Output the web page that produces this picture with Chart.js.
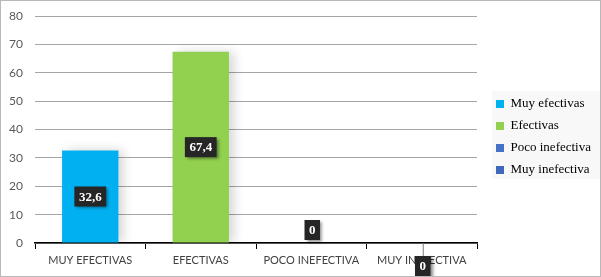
<!DOCTYPE html>
<html>
<head>
<meta charset="utf-8">
<script src="https://cdn.jsdelivr.net/npm/chart.js@4/dist/chart.umd.min.js"></script>
<style>
  html, body { margin: 0; padding: 0; background: #fff; }
  #wrap { width: 599px; height: 275px; border: 1px solid #b8b8b8; }
  canvas { display: block; }
</style>
</head>
<body>
<div id="wrap"><canvas id="effChart" width="599" height="275"></canvas></div>
<script>
const categories = ['MUY EFECTIVAS', 'EFECTIVAS', 'POCO INEFECTIVA', 'MUY INEFECTIVA'];
const legendNames = ['Muy efectivas', 'Efectivas', 'Poco inefectiva', 'Muy inefectiva'];
const percentages = [32.6, 67.4, 0, 0];
const barColors = ['#00b0f0', '#92d050', '#4472c4', '#3f68bd'];

// soft shadow behind the bars, like the office chart
const barShadow = {
  id: 'barShadow',
  beforeDatasetDraw(chart) {
    const ctx = chart.ctx;
    ctx.save();
    ctx.shadowColor = 'rgba(0,0,0,0.16)';
    ctx.shadowBlur = 10;
    ctx.shadowOffsetX = 5;
    ctx.shadowOffsetY = 0;
  },
  afterDatasetDraw(chart) {
    chart.ctx.restore();
  }
};

// nudge the legend where excel put it + faint panel behind it
const legendPanel = {
  id: 'legendPanel',
  afterLayout(chart) {
    const lg = chart.legend;
    if (!lg) return;
    lg.left += 10; lg.right += 10;
    lg.top -= 9; lg.bottom -= 9;
  },
  beforeDraw(chart) {
    const lg = chart.legend;
    if (!lg) return;
    const ctx = chart.ctx;
    const cy = (lg.top + lg.bottom) / 2;
    ctx.save();
    ctx.fillStyle = '#f8f8f8';
    ctx.fillRect(lg.left + 5, cy - 46, chart.width - lg.left - 5, 88);
    ctx.restore();
  }
};

// dark value boxes
const valueBoxes = {
  id: 'valueBoxes',
  afterDraw(chart) {
    const ctx = chart.ctx;
    const meta = chart.getDatasetMeta(0);
    let zeroCount = 0;
    ctx.save();
    ctx.font = 'bold 13px "Liberation Serif", "Times New Roman", serif';
    ctx.textAlign = 'center';
    ctx.textBaseline = 'middle';
    meta.data.forEach((bar, i) => {
      const v = percentages[i];
      const txt = v.toLocaleString('es-ES');
      const w = ctx.measureText(txt).width + 9;
      const h = 20;
      let cx = bar.x;
      let cy;
      if (v > 0) {
        cy = (bar.y + bar.base) / 2;
      } else {
        zeroCount++;
        if (zeroCount === 1) {
          cx = bar.x + 1;
          cy = bar.base - 13;
        } else {
          cx = bar.x + 1;
          cy = bar.base + 23;
          ctx.strokeStyle = '#7f7f7f';
          ctx.lineWidth = 1;
          ctx.beginPath();
          ctx.moveTo(cx + 0.5, bar.base);
          ctx.lineTo(cx + 0.5, cy - h / 2);
          ctx.stroke();
        }
      }
      ctx.save();
      ctx.shadowColor = 'rgba(0,0,0,0.45)';
      ctx.shadowBlur = 3;
      ctx.shadowOffsetX = 2;
      ctx.shadowOffsetY = 2;
      ctx.fillStyle = '#262626';
      ctx.fillRect(cx - w / 2, cy - h / 2, w, h);
      ctx.restore();
      ctx.fillStyle = '#ffffff';
      ctx.fillText(txt, cx, cy + 1);
    });
    ctx.restore();
  }
};

const ctx = document.getElementById('effChart');
new Chart(ctx, {
  type: 'bar',
  data: {
    labels: categories,
    datasets: [{
      data: percentages,
      backgroundColor: barColors,
      borderWidth: 0,
      barPercentage: 0.51,
      categoryPercentage: 1
    }]
  },
  options: {
    responsive: false,
    animation: false,
    layout: { padding: { top: 15, right: 9, left: 0, bottom: 0 } },
    scales: {
      x: {
        grid: {
          offset: true,
          drawOnChartArea: false,
          drawTicks: true,
          tickLength: 6,
          color: '#000'
        },
        border: { color: '#000', width: 1.5 },
        ticks: {
          color: '#404040',
          font: { family: 'Lato, "Open Sans", sans-serif', size: 11 },
          padding: 5,
          maxRotation: 0
        },
        afterFit(s) { s.height = 33; }
      },
      y: {
        min: 0,
        max: 80,
        ticks: {
          stepSize: 10,
          color: '#595959',
          font: { family: 'Lato, "Open Sans", sans-serif', size: 12 },
          padding: 12
        },
        grid: { color: '#a6a6a6', drawTicks: false, lineWidth: 1 },
        border: { display: false },
        afterFit(s) { s.width = 34; s.paddingTop = 0; s.paddingBottom = 0; }
      }
    },
    plugins: {
      tooltip: { enabled: false },
      legend: {
        position: 'right',
        labels: {
          boxWidth: 8,
          boxHeight: 8,
          padding: 9,
          color: '#262626',
          font: { family: '"Liberation Serif", "Times New Roman", serif', size: 13 },
          generateLabels() {
            return legendNames.map((name, i) => ({
              text: name,
              fillStyle: barColors[i],
              strokeStyle: barColors[i],
              lineWidth: 0,
              hidden: false,
              index: i
            }));
          }
        }
      }
    }
  },
  plugins: [barShadow, legendPanel, valueBoxes]
});
</script>
</body>
</html>
